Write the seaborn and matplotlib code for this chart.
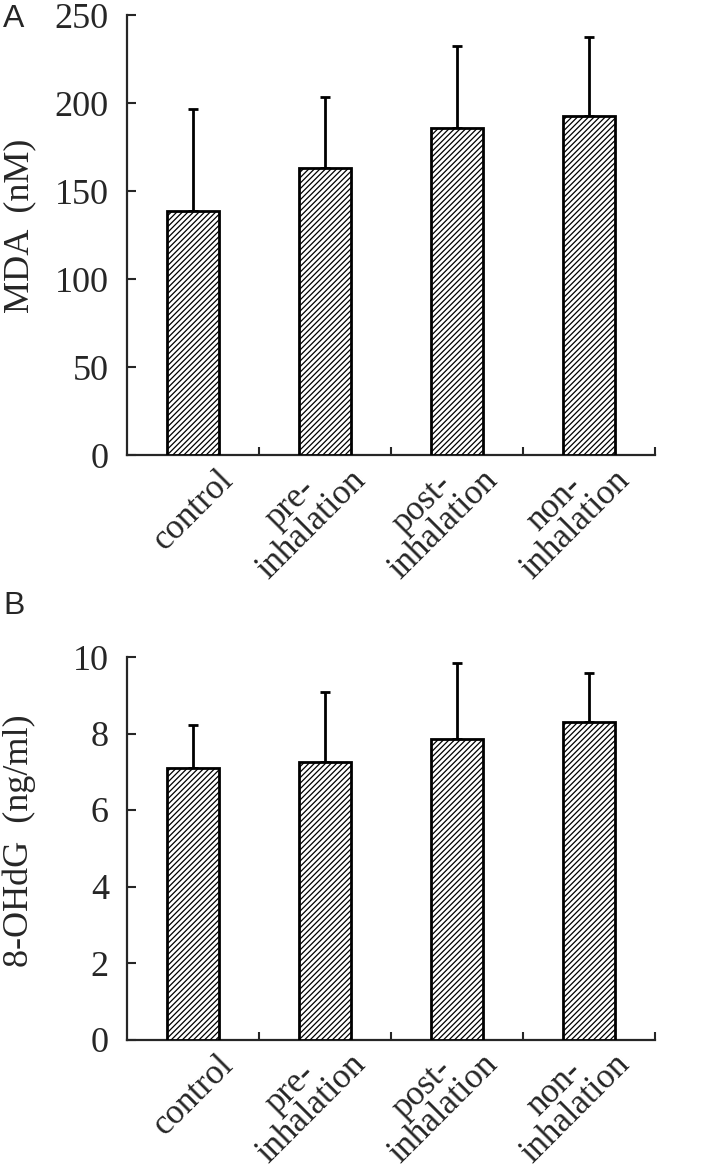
import numpy as np
import pandas as pd
import matplotlib
matplotlib.use("Agg")
import matplotlib.pyplot as plt
import matplotlib.transforms as mtransforms
import seaborn as sns

categories = ["control", "pre-\ninhalation", "post-\ninhalation", "non-\ninhalation"]
mda_mean = [138.6, 163.0, 186.0, 192.6]
mda_sd = [58.2, 40.6, 46.2, 44.7]
ohdg_mean = [7.11, 7.25, 7.85, 8.30]
ohdg_sd = [1.11, 1.83, 2.00, 1.28]

mda_ticks = [0, 50, 100, 150, 200, 250]
ohdg_ticks = [0, 2, 4, 6, 8, 10]

sns.set_theme(style="ticks")
plt.rcParams["font.family"] = "serif"
plt.rcParams["font.serif"] = ["Liberation Serif", "Times New Roman", "DejaVu Serif"]
plt.rcParams["hatch.linewidth"] = 0.9
plt.rcParams["hatch.color"] = "#2a2a2a"

fig = plt.figure(figsize=(7.07, 11.68), dpi=100)
H = 1168.0
W = 707.0
axA = fig.add_axes([127 / W, (H - 455) / H, (655 - 127) / W, (455 - 15) / H])
axB = fig.add_axes([127 / W, (H - 1039.5) / H, (655 - 127) / W, (1039.5 - 657) / H])

def panel(ax, means, sds, ticks, ylabel):
    df = pd.DataFrame({"group": categories, "value": means})
    sns.barplot(data=df, x="group", y="value", ax=ax, width=0.4,
                color="white", edgecolor="black", linewidth=2.0,
                errorbar=None, zorder=3)
    for p in ax.patches:
        p.set_facecolor("white")
        p.set_hatch("//////")
        p.set_edgecolor("black")
    x = np.arange(len(categories))
    ax.errorbar(x, means, yerr=[np.zeros(len(means)), sds], fmt="none",
                ecolor="black", elinewidth=2.0, capsize=3.6, capthick=2.0,
                zorder=2)
    ax.set_xlim(-0.5, 3.5)
    ax.set_ylim(ticks[0], ticks[-1])
    ax.set_yticks(ticks)
    ax.set_yticklabels([str(t) for t in ticks], fontsize=26)
    ax.set_xticks(x)
    ax.set_xticklabels(categories, fontsize=25, rotation=45, ha="right",
                       va="bottom", rotation_mode="anchor", linespacing=0.85,
                       multialignment="center")
    ax.set_xticks([0.5, 1.5, 2.5, 3.5], minor=True)
    ax.tick_params(axis="x", which="major", length=0, pad=0)
    ax.tick_params(axis="x", which="minor", direction="in", length=6, width=1.5)
    ax.tick_params(axis="y", direction="in", length=6.5, width=1.5, pad=13)
    for s in ["top", "right"]:
        ax.spines[s].set_visible(False)
    for s in ["left", "bottom"]:
        ax.spines[s].set_linewidth(1.6)
    ax.set_xlabel("")
    ax.set_ylabel(ylabel, fontsize=26)
    ax.yaxis.set_label_coords(-0.172, 0.52)
    offset = mtransforms.ScaledTranslation(47 / 100.0, -32 / 100.0, fig.dpi_scale_trans)
    for lab in ax.get_xticklabels():
        lab.set_transform(lab.get_transform() + offset)

panel(axA, mda_mean, mda_sd, mda_ticks, "MDA  (nM)")
panel(axB, ohdg_mean, ohdg_sd, ohdg_ticks, "8-OHdG  (ng/ml)")

fig.text(3 / W, 1 - 4 / H, "A", fontsize=23, family="Liberation Sans", va="top", ha="left")
fig.text(3 / W, 1 - 591 / H, "B", fontsize=23, family="Liberation Sans", va="top", ha="left")

fig.savefig("out.png", dpi=100)
